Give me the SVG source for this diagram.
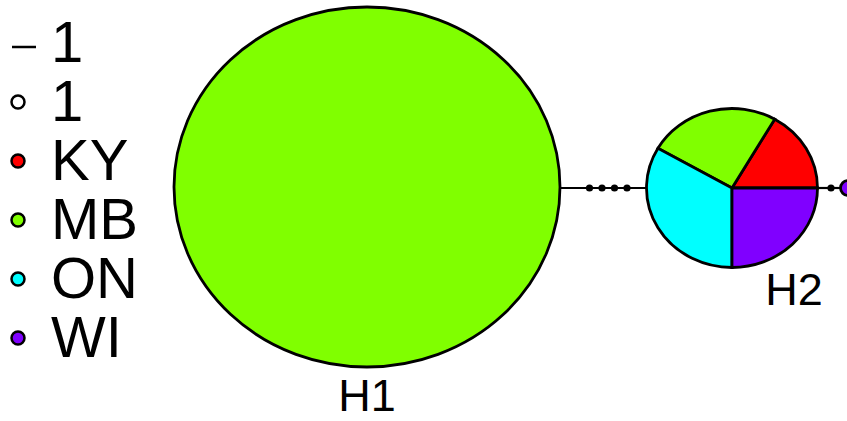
<svg xmlns="http://www.w3.org/2000/svg" width="847" height="421" viewBox="0 0 847 421">
<style>
.t{font-family:"Liberation Sans",Arial,sans-serif;fill:#000}
.lg{font-size:58px}
.lb{font-size:45px}
.o{stroke:#000;stroke-width:2.8}
.d{stroke:#000;stroke-width:2;fill:#000}
.ld{stroke:#000;stroke-width:2.5}
.k{stroke:#000;stroke-width:2.5}
</style>
<rect width="847" height="421" fill="#fff"/>
<g id="connectors">
<line x1="560" y1="188" x2="647" y2="188" stroke="#000" stroke-width="2.2"/>
<circle class="d" cx="589.5" cy="188" r="2.6"/>
<circle class="d" cx="602" cy="188" r="2.6"/>
<circle class="d" cx="614.5" cy="188" r="2.6"/>
<circle class="d" cx="627" cy="188" r="2.6"/>
<line x1="817" y1="188" x2="842" y2="188" stroke="#000" stroke-width="2.2"/>
<circle class="d" cx="831" cy="188" r="2.6"/>
</g>
<g id="H1">
<ellipse class="o" cx="367" cy="187" rx="193" ry="180" fill="#80FF00"/>
<text class="t lb" x="367" y="411" text-anchor="middle">H1</text>
</g>
<g id="H2">
<path class="o" d="M732,188 L817.5,188 A85.5,79.5 0 0 0 774.75,119.15 Z" fill="#FF0000"/>
<path class="o" d="M732,188 L774.75,119.15 A85.5,79.5 0 0 0 657.96,148.25 Z" fill="#80FF00"/>
<path class="o" d="M732,188 L657.96,148.25 A85.5,79.5 0 0 0 732,267.5 Z" fill="#00FFFF"/>
<path class="o" d="M732,188 L732,267.5 A85.5,79.5 0 0 0 817.5,188 Z" fill="#8000FF"/>
<text class="t lb" x="794" y="305" text-anchor="middle">H2</text>
</g>
<g id="H3">
<circle class="o" cx="848" cy="188" r="7.5" fill="#8000FF"/>
</g>
<g id="legend">
<line class="ld" x1="12" y1="47" x2="36" y2="47"/>
<text class="t lg" x="51" y="62">1</text>
<circle class="k" cx="18" cy="102" r="6.5" fill="#fff"/>
<text class="t lg" x="51" y="121">1</text>
<circle class="k" cx="18" cy="161" r="6.5" fill="#FF0000"/>
<text class="t lg" x="51" y="180">KY</text>
<circle class="k" cx="18" cy="220" r="6.5" fill="#80FF00"/>
<text class="t lg" x="51" y="239">MB</text>
<circle class="k" cx="18" cy="279" r="6.5" fill="#00FFFF"/>
<text class="t lg" x="51" y="298">ON</text>
<circle class="k" cx="18" cy="338" r="6.5" fill="#8000FF"/>
<text class="t lg" x="51" y="357">WI</text>
</g>
</svg>
